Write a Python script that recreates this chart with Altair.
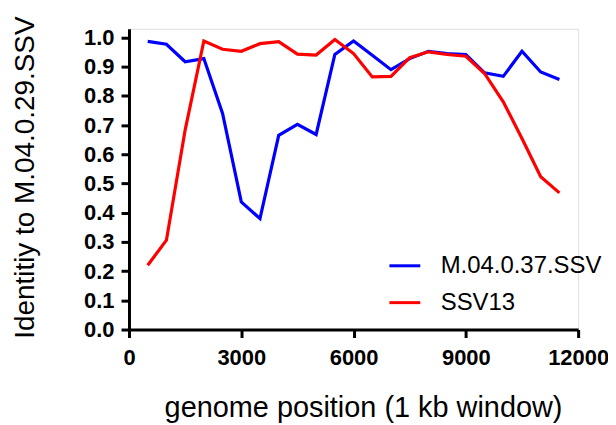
import altair as alt
import pandas as pd

positions = [500, 1000, 1500, 2000, 2500, 3000, 3500, 4000, 4500, 5000, 5500, 6000,
             6500, 7000, 7500, 8000, 8500, 9000, 9500, 10000, 10500, 11000, 11500]
m04_037 = [0.987, 0.977, 0.917, 0.928, 0.74, 0.437, 0.38, 0.665, 0.703, 0.668, 0.942, 0.988,
           0.939, 0.89, 0.928, 0.953, 0.945, 0.942, 0.879, 0.867, 0.953, 0.882, 0.856]
ssv13 = [0.22, 0.306, 0.683, 0.988, 0.96, 0.953, 0.979, 0.986, 0.943, 0.94, 0.993, 0.945,
         0.865, 0.867, 0.931, 0.951, 0.942, 0.936, 0.877, 0.78, 0.654, 0.523, 0.468]
series_names = ["M.04.0.37.SSV", "SSV13"]
series_colors = ["#0000FF", "#FF0000"]
x_ticks = [0, 3000, 6000, 9000, 12000]
y_ticks = [0.0, 0.1, 0.2, 0.3, 0.4, 0.5, 0.6, 0.7, 0.8, 0.9, 1.0]

rows = []
for name, vals in zip(series_names, [m04_037, ssv13]):
    for p, v in zip(positions, vals):
        rows.append({"pos": p, "identity": v, "series": name})
df = pd.DataFrame(rows)

FONT = "Liberation Sans"

chart = alt.Chart(df).mark_line(strokeWidth=3.2).encode(
    x=alt.X("pos:Q",
            scale=alt.Scale(domain=[0, 12000], nice=False, zero=False),
            axis=alt.Axis(values=x_ticks, format="d", title="genome position (1 kb window)",
                          titleFontSize=29, titleFontWeight="normal", titleFont=FONT,
                          titleBaseline="alphabetic", titleX=235, titleY=87,
                          titleAnchor="start", titleAlign="center",
                          labelFontSize=22, labelFontWeight="bold", labelFont=FONT,
                          labelPadding=10, tickSize=8, tickWidth=3, domainWidth=3,
                          domainColor="black", tickColor="black", labelColor="black",
                          titleColor="black", grid=False, labelFlush=False)),
    y=alt.Y("identity:Q",
            scale=alt.Scale(domain=[0, 1.03], nice=False, zero=False),
            axis=alt.Axis(values=y_ticks, format=".1f", title="Identitiy to M.04.0.29.SSV",
                          titleFontSize=28, titleFontWeight="normal", titleFont=FONT,
                          titleBaseline="alphabetic", titleX=-96, titleY=149,
                          titleAngle=270, titleAlign="center",
                          labelFontSize=22, labelFontWeight="bold", labelFont=FONT,
                          labelPadding=7, tickSize=8, tickWidth=3, domainWidth=3,
                          domainColor="black", tickColor="black", labelColor="black",
                          titleColor="black", grid=False, labelFlush=False)),
    color=alt.Color("series:N",
                    scale=alt.Scale(domain=series_names, range=series_colors),
                    legend=alt.Legend(title=None, orient="none", legendX=260, legendY=221,
                                      symbolType="stroke", symbolSize=961, symbolStrokeWidth=3,
                                      labelFontSize=24, labelFont=FONT, labelColor="black",
                                      labelLimit=400, labelOffset=19, rowPadding=8, padding=0)),
).properties(
    width=451, height=302,
    autosize=alt.AutoSizeParams(type="none"),
    padding={"left": 121.5, "top": 20, "right": 30, "bottom": 94},
).configure_view(stroke=None).configure(background="white")

chart.save("out.html", embed_options={"renderer": "svg", "actions": False})
